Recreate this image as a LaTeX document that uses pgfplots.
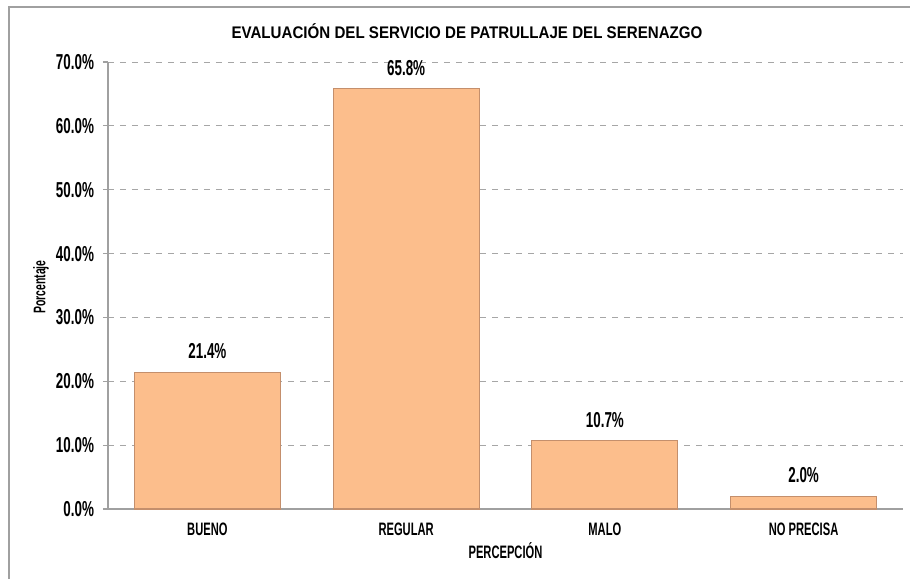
\documentclass[border=0pt]{standalone}
\usepackage{fontspec}
\setmainfont{Liberation Sans}
\newfontfamily\agency{Liberation Sans}[FakeStretch=0.62]
\newfontfamily\titlef{Liberation Sans}[FakeStretch=0.9]
\usepackage{pgfplots}
\pgfplotsset{compat=1.18}
\definecolor{barfill}{HTML}{FCBE8C}
\definecolor{baredge}{HTML}{C48F6C}
\definecolor{gridc}{HTML}{A6A6A6}
\definecolor{axc}{HTML}{A0A0A0}
\definecolor{framec}{HTML}{A0A0A0}
\begin{document}
\begin{tikzpicture}[x=1pt,y=1pt]
\path[use as bounding box] (-54,-35) rectangle (401,254.5);
\draw[framec, line width=0.7pt] (-49.5,-35) -- (-49.5,251) -- (401,251);
\node[font=\titlef\bfseries\fontsize{8.4}{10}\selectfont] at (179.5,239) {EVALUACIÓN DEL SERVICIO DE PATRULLAJE DEL SERENAZGO};
\node[font=\agency\bfseries\fontsize{8.4}{9}\selectfont, rotate=90] at (-33.5,111) {Porcentaje};
\begin{axis}[
  at={(0,0)}, anchor=south west,
  scale only axis, width=397.5pt, height=223.5pt,
  xmin=-0.5, xmax=3.5, ymin=0, ymax=70,
  ybar, bar width=73pt,
  axis lines*=left,
  axis line style={axc, line width=0.6pt},
  ytick={0,10,...,70},
  ymajorgrids,
  grid style={dashed, gridc, line width=0.5pt},
  tick align=outside,
  major tick length=2.5pt,
  tick style={axc, line width=0.6pt},
  xtick={0,1,2,3},
  xticklabels={BUENO,REGULAR,MALO,NO PRECISA},
  x tick style={draw=none},
  extra x ticks={-0.5,0.5,1.5,2.5,3.5},
  extra x tick labels={},
  extra x tick style={grid=none, tick style={draw=axc, line width=0.6pt}, major tick length=2.5pt},
  /pgf/number format/assume math mode=true,
  yticklabel={\pgfmathprintnumber[fixed,fixed zerofill,precision=1]{\tick}\%},
  yticklabel style={font=\agency\bfseries\fontsize{10.8}{12}\selectfont, xshift=-1pt},
  xticklabel style={font=\agency\bfseries\fontsize{9}{10}\selectfont, yshift=-1pt},
  xlabel={PERCEPCIÓN},
  xlabel style={font=\agency\bfseries\fontsize{9}{10}\selectfont, at={(rel axis cs:0.5,0)}, anchor=center, yshift=-21pt},
  nodes near coords={\pgfmathprintnumber[fixed,fixed zerofill,precision=1]{\pgfplotspointmeta}\%},
  every node near coord/.append style={font=\agency\bfseries\fontsize{10.8}{12}\selectfont, black, yshift=3pt},
  clip=false,
]
\addplot[fill=barfill, draw=baredge, line width=0.6pt] coordinates {(0,21.4) (1,65.8) (2,10.7) (3,2.0)};
\end{axis}
\end{tikzpicture}
\end{document}
